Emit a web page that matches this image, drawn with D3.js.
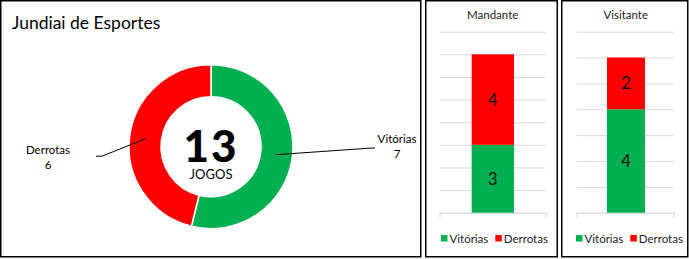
<!DOCTYPE html>
<html>
<head>
<meta charset="utf-8">
<script src="https://cdn.jsdelivr.net/npm/d3@7"></script>
<style>
  html, body { margin: 0; padding: 0; background: #fff; }
  svg { display: block; font-family: Lato, "Open Sans", sans-serif; }
</style>
</head>
<body>
<svg id="chart" width="689" height="259"></svg>
<script>
// data
const teamName = "Jundiai de Esportes";
const resultLabels = ["Vitórias", "Derrotas"];
const resultColors = ["#00B050", "#FF0000"];
const totalResults = [7, 6];
const totalGames = 13;
const homeResults = [3, 4];
const awayResults = [4, 2];
const homeAxisMax = 8;
const awayAxisMax = 7;

const svg = d3.select("#chart");

// panel frames
const panels = [
  { x: 0.75, y: 0.75, w: 420, h: 256 },
  { x: 425.75, y: 0.75, w: 131.5, h: 256 },
  { x: 561.75, y: 0.75, w: 126, h: 256 }
];
svg.selectAll("rect.frame")
  .data(panels)
  .enter()
  .append("rect")
  .attr("class", "frame")
  .attr("x", d => d.x)
  .attr("y", d => d.y)
  .attr("width", d => d.w)
  .attr("height", d => d.h)
  .attr("fill", "#fff")
  .attr("stroke", "#000")
  .attr("stroke-width", 1.5);

// ---- donut ----
const cx = 211, cy = 146.7, rOuter = 82, rInner = 50;
const donut = svg.append("g").attr("transform", `translate(${cx},${cy})`);

svg.append("text")
  .attr("x", 12)
  .attr("y", 29)
  .attr("font-size", 17.5)
  .attr("fill", "#000")
  .text(teamName);

const pie = d3.pie().sort(null).value(d => d.value);
const arcs = pie(resultLabels.map((label, i) => ({ label, value: totalResults[i], color: resultColors[i] })));
const arc = d3.arc().innerRadius(rInner).outerRadius(rOuter);
const midArc = d3.arc().innerRadius((rInner + rOuter) / 2).outerRadius((rInner + rOuter) / 2);

donut.selectAll("path.slice")
  .data(arcs)
  .enter()
  .append("path")
  .attr("class", "slice")
  .attr("d", arc)
  .attr("fill", d => d.data.color)
  .attr("stroke", "#fff")
  .attr("stroke-width", 1.5);

donut.append("text")
  .attr("text-anchor", "middle")
  .attr("y", 15)
  .attr("font-size", 44)
  .attr("font-weight", 900)
  .attr("letter-spacing", 2)
  .attr("fill", "#000")
  .text(totalGames);

donut.append("text")
  .attr("text-anchor", "middle")
  .attr("y", 32.5)
  .attr("font-size", 13)
  .attr("fill", "#000")
  .text("JOGOS");

// callout labels: right side for first slice, left side for second
const labelLayout = [
  { tx: 186, elbow: 161, end: 164, ly: -4 },
  { tx: -163, elbow: -109, end: -115, ly: 7 }
];
arcs.forEach((d, i) => {
  const [px, py] = midArc.centroid(d);
  const L = labelLayout[i];
  const lineY = i === 0 ? L.ly + 5.3 : L.ly + 2.5;
  donut.append("polyline")
    .attr("points", [[px, py], [L.elbow, lineY], [L.end, lineY]].map(p => p.join(",")).join(" "))
    .attr("fill", "none")
    .attr("stroke", "#000")
    .attr("stroke-width", 1);
  const t = donut.append("text")
    .attr("text-anchor", "middle")
    .attr("font-size", 11.5)
    .attr("fill", "#000");
  t.append("tspan").attr("x", L.tx).attr("y", L.ly).text(d.data.label);
  t.append("tspan").attr("x", L.tx).attr("y", L.ly + 15).text(d.data.value);
});

// ---- stacked bars ----
function drawStack(cfg) {
  const g = svg.append("g");
  const y = d3.scaleLinear().domain([0, cfg.max]).range([212.7, 31.7]);

  g.append("text")
    .attr("x", cfg.titleX)
    .attr("y", 18.5)
    .attr("text-anchor", "middle")
    .attr("font-size", 11.5)
    .attr("fill", "#222")
    .text(cfg.title);

  const grid = g.append("g")
    .attr("transform", `translate(${cfg.x0},0)`)
    .call(d3.axisLeft(y).ticks(cfg.max).tickSize(-(cfg.x1 - cfg.x0)).tickFormat(""));
  grid.select(".domain").remove();
  grid.selectAll("line").attr("stroke", "#D9D9D9").attr("stroke-width", 1);

  const base = g.append("g")
    .attr("transform", `translate(0,${y(0)})`)
    .call(d3.axisBottom(d3.scaleLinear().domain([0, 1]).range([cfg.x0, cfg.x1])).ticks(1).tickSize(5).tickSizeOuter(0).tickFormat(""));
  base.selectAll("line, path").attr("stroke", "#D9D9D9");

  let acc = 0;
  const segs = cfg.values.map((v, i) => {
    const s = { v, y0: acc, y1: acc + v, color: resultColors[i] };
    acc += v;
    return s;
  });

  g.selectAll("rect.seg")
    .data(segs)
    .enter()
    .append("rect")
    .attr("class", "seg")
    .attr("x", cfg.barX)
    .attr("width", cfg.barW)
    .attr("y", d => y(d.y1))
    .attr("height", d => y(d.y0) - y(d.y1))
    .attr("fill", d => d.color);

  g.selectAll("text.val")
    .data(segs)
    .enter()
    .append("text")
    .attr("class", "val")
    .attr("x", cfg.barX + cfg.barW / 2)
    .attr("y", d => (y(d.y0) + y(d.y1)) / 2 + 6)
    .attr("text-anchor", "middle")
    .attr("font-size", 16.5)
    .attr("fill", "#111")
    .text(d => d.v);

  // legend
  let lx = cfg.legendX;
  resultLabels.forEach((label, i) => {
    g.append("rect")
      .attr("x", lx)
      .attr("y", 235)
      .attr("width", 6.5)
      .attr("height", 6.5)
      .attr("fill", resultColors[i]);
    const t = g.append("text")
      .attr("x", lx + 8.5)
      .attr("y", 242.5)
      .attr("font-size", 11.5)
      .attr("fill", "#222")
      .text(label);
    lx += 8.5 + t.node().getComputedTextLength() + 7;
  });
}

drawStack({ title: "Mandante", titleX: 492.7, values: homeResults, max: homeAxisMax,
  x0: 439.5, x1: 545.5, barX: 471.7, barW: 42.3, legendX: 441 });
drawStack({ title: "Visitante", titleX: 625.7, values: awayResults, max: awayAxisMax,
  x0: 576.7, x1: 673.7, barX: 607, barW: 38, legendX: 576 });
</script>
</body>
</html>
